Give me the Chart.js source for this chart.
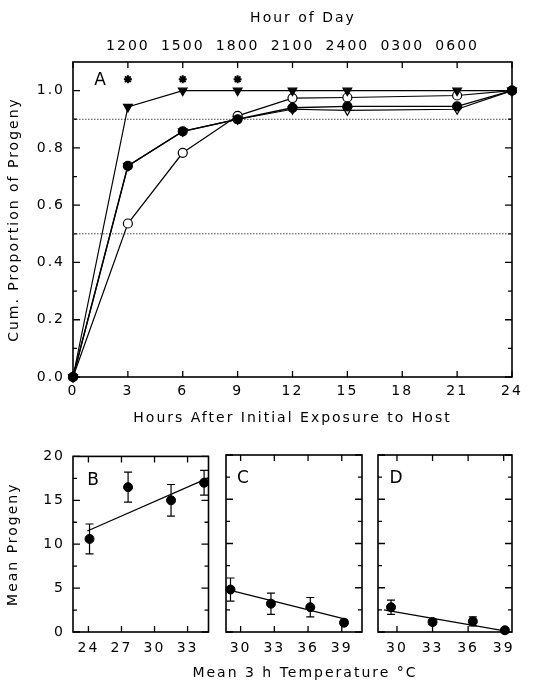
<!DOCTYPE html>
<html>
<head>
<meta charset="utf-8">
<script src="https://cdn.jsdelivr.net/npm/chart.js@4.4.0/dist/chart.umd.min.js"></script>
<style>
  html, body { margin: 0; padding: 0; background: #fff; }
  body { width: 541px; height: 686px; position: relative; overflow: hidden; }
  canvas { position: absolute; }
  .title {
    position: absolute; left: 0; text-align: center; line-height: 16px;
    font: 14px "DejaVu Sans", sans-serif; letter-spacing: 2px; color: #000;
  }
</style>
</head>
<body>
<canvas id="chartA" width="541" height="440" style="left:0;top:0"></canvas>
<canvas id="chartB" width="214" height="246" style="left:0;top:440px"></canvas>
<canvas id="chartC" width="156" height="246" style="left:214px;top:440px"></canvas>
<canvas id="chartD" width="171" height="246" style="left:370px;top:440px"></canvas>
<div class="title" style="top:9px;width:606px">Hour of Day</div>
<div class="title" style="top:664px;width:610px">Mean 3 h Temperature °C</div>
<script>
// panel A - cumulative proportion of progeny
const hours = [0, 3, 6, 9, 12, 15, 21, 24];
const filledTriangle = [0, 0.943, 1.0, 1.0, 1.0, 1.0, 1.0, 1.0];
const filledCircle = [0, 0.737, 0.858, 0.900, 0.940, 0.945, 0.945, 1.0];
const openCircle = [0, 0.536, 0.783, 0.912, 0.974, 0.976, 0.983, 1.0];
const openTriangle = [0, 0.737, 0.858, 0.900, 0.935, 0.931, 0.935, 1.0];
const starHours = [3, 6, 9];
const starLevel = 1.04;
const refLevels = [0.9, 0.5];
const hourTicks = [0, 3, 6, 9, 12, 15, 18, 21, 24];
const hourOfDay = ['', '1200', '1500', '1800', '2100', '2400', '0300', '0600', ''];
const propTicks = [0, 0.2, 0.4, 0.6, 0.8, 1.0];
const propMinor = [0.1, 0.3, 0.5, 0.7, 0.9];

// panels B-D - mean progeny vs temperature
const tempB = [24.1, 27.6, 31.5, 34.5];
const progenyB = [10.6, 16.5, 15.0, 17.0];
const errB = [1.7, 1.7, 1.8, 1.4];
const fitB = [[23.9, 11.5], [34.9, 17.55]];

const tempC = [29.1, 32.7, 36.2, 39.2];
const progenyC = [4.8, 3.2, 2.8, 1.05];
const errC = [1.3, 1.2, 1.1, 0.3];
const fitC = [[29.1, 4.7], [39.5, 1.4]];

const tempD = [29.5, 33.0, 36.4, 39.1];
const progenyD = [2.8, 1.13, 1.2, 0.2];
const errD = [0.8, 0.3, 0.5, 0.3];
const fitD = [[28.9, 2.5], [39.2, 0.1]];

const progenyTicks = [0, 5, 10, 15, 20];
const progenyMinor = [2.5, 7.5, 12.5, 17.5];
const tempTicksB = [24, 27, 30, 33];
const tempTicksCD = [30, 33, 36, 39];

const FONT = { family: '"DejaVu Sans", sans-serif', size: 14 };
const NOGRID = { display: false, drawTicks: false };

// frame + inward ticks + panel letter
const framePlugin = {
  id: 'frame',
  beforeDraw(chart) { chart.ctx.letterSpacing = '2px'; },
  beforeDatasetsDraw(chart, args, o) {
    const { ctx, chartArea: a, scales } = chart;
    const x = scales.x, y = scales.y;
    ctx.save();
    ctx.letterSpacing = '0px';
    ctx.strokeStyle = '#000';
    ctx.lineWidth = 1.6;
    ctx.strokeRect(a.left, a.top, a.right - a.left, a.bottom - a.top);
    ctx.lineWidth = 1.3;
    ctx.beginPath();
    o.xTicks.forEach(v => {
      const px = x.getPixelForValue(v);
      ctx.moveTo(px, a.bottom); ctx.lineTo(px, a.bottom - 6);
      ctx.moveTo(px, a.top); ctx.lineTo(px, a.top + 6);
    });
    const yt = (v, len) => {
      const py = y.getPixelForValue(v);
      ctx.moveTo(a.left, py); ctx.lineTo(a.left + len, py);
      ctx.moveTo(a.right, py); ctx.lineTo(a.right - len, py);
    };
    o.yMajor.forEach(v => yt(v, 7));
    o.yMinor.forEach(v => yt(v, 4));
    ctx.stroke();
    ctx.fillStyle = '#000';
    ctx.font = '17px "DejaVu Sans", sans-serif';
    ctx.textAlign = 'center';
    ctx.textBaseline = 'middle';
    ctx.fillText(o.letter, a.left + o.dx, a.top + o.dy);
    ctx.restore();
  }
};

// error bars for panels B-D
const errorBars = {
  id: 'errorBars',
  beforeDatasetsDraw(chart, args, o) {
    if (!o.xs) return;
    const { ctx, scales: { x, y } } = chart;
    ctx.save();
    ctx.strokeStyle = '#000';
    ctx.lineWidth = 1.2;
    ctx.beginPath();
    o.xs.forEach((t, i) => {
      const px = x.getPixelForValue(t);
      const hi = y.getPixelForValue(o.ys[i] + o.errs[i]);
      const lo = y.getPixelForValue(o.ys[i] - o.errs[i]);
      ctx.moveTo(px, hi); ctx.lineTo(px, lo);
      ctx.moveTo(px - 4, hi); ctx.lineTo(px + 4, hi);
      ctx.moveTo(px - 4, lo); ctx.lineTo(px + 4, lo);
    });
    ctx.stroke();
    ctx.restore();
  }
};

const pts = (xs, ys) => xs.map((v, i) => ({ x: v, y: ys[i] }));
const setTicks = vals => scale => { scale.ticks = vals.map(v => ({ value: v })); };

function series(data, fill, style, radius, width) {
  return {
    data: data,
    borderColor: '#000',
    backgroundColor: fill,
    pointBackgroundColor: fill,
    pointBorderColor: '#000',
    pointStyle: style,
    pointRotation: style === 'triangle' ? 180 : 0,
    pointRadius: radius,
    pointBorderWidth: 1.2,
    borderWidth: width,
    showLine: true,
    clip: false
  };
}

function initPanelA() {
  const refData = refLevels.map(l => ({
    data: [{ x: 0, y: l }, { x: 24, y: l }],
    borderColor: '#444', borderWidth: 1, borderDash: [1.5, 1.5],
    pointRadius: 0, showLine: true
  }));
  new Chart(document.getElementById('chartA'), {
    type: 'scatter',
    data: {
      datasets: [
        series(pts(hours, filledCircle), '#000', 'circle', 4.5, 1.4),
        series(pts(hours, filledTriangle), '#000', 'triangle', 5, 1.2),
        series(pts(hours, openCircle), '#fff', 'circle', 4.5, 1.2),
        series(pts(hours, openTriangle), '#fff', 'triangle', 5, 1.2),
        {
          data: starHours.map(h => ({ x: h, y: starLevel })),
          pointStyle: 'star', pointRadius: 4, pointBorderWidth: 2,
          pointBorderColor: '#000', showLine: false
        },
        ...refData
      ]
    },
    options: {
      responsive: false,
      animation: false,
      layout: { padding: { right: 29, top: 0, left: 0, bottom: 0 } },
      plugins: {
        legend: { display: false },
        tooltip: { enabled: false },
        frame: { xTicks: hourTicks, yMajor: propTicks, yMinor: propMinor, letter: 'A', dx: 27, dy: 19 }
      },
      scales: {
        x: {
          type: 'linear', min: 0, max: 24,
          grid: NOGRID, border: { display: false },
          afterBuildTicks: setTicks(hourTicks),
          afterFit: s => { s.height = 63; },
          ticks: { font: FONT, color: '#000', padding: 6, maxRotation: 0 },
          title: { display: true, text: 'Hours After Initial Exposure to Host', font: FONT, color: '#000', padding: { bottom: 13 } }
        },
        x2: {
          type: 'linear', position: 'top', axis: 'x', min: 0, max: 24,
          grid: NOGRID, border: { display: false },
          afterBuildTicks: setTicks(hourTicks),
          afterFit: s => { s.height = 62; },
          ticks: { font: FONT, color: '#000', padding: 7, maxRotation: 0,
            callback: v => hourOfDay[hourTicks.indexOf(v)] }
        },
        y: {
          min: 0, max: 1.1,
          grid: NOGRID, border: { display: false },
          afterBuildTicks: setTicks(propTicks),
          afterFit: s => { s.width = 73; },
          ticks: { font: FONT, color: '#000', padding: 8, callback: v => v.toFixed(1) },
          title: { display: true, text: 'Cum. Proportion of Progeny', font: FONT, color: '#000', padding: { top: 6 } }
        }
      }
    },
    plugins: [framePlugin]
  });
}

function initTempPanel(id, xs, ys, errs, fit, range, xTicks, letter, dx, pad, showY) {
  new Chart(document.getElementById(id), {
    type: 'scatter',
    data: {
      datasets: [
        {
          data: pts(xs, ys), pointRadius: 4.5, pointBackgroundColor: '#000',
          pointBorderColor: '#000', showLine: false, clip: false
        },
        {
          data: fit.map(p => ({ x: p[0], y: p[1] })), borderColor: '#000', borderWidth: 1.2,
          pointRadius: 0, showLine: true, clip: false
        }
      ]
    },
    options: {
      responsive: false,
      animation: false,
      layout: { padding: { top: 15, left: pad[0], right: pad[1], bottom: 0 } },
      plugins: {
        legend: { display: false },
        tooltip: { enabled: false },
        frame: { xTicks: xTicks, yMajor: progenyTicks, yMinor: progenyMinor, letter: letter, dx: dx, dy: 24 },
        errorBars: { xs: xs, ys: ys, errs: errs }
      },
      scales: {
        x: {
          type: 'linear', min: range[0], max: range[1],
          grid: NOGRID, border: { display: false },
          afterBuildTicks: setTicks(xTicks),
          afterFit: s => { s.height = 54; },
          ticks: { font: FONT, color: '#000', padding: 8, maxRotation: 0 }
        },
        y: {
          min: 0, max: 20, display: showY,
          grid: NOGRID, border: { display: false },
          afterBuildTicks: setTicks(progenyTicks),
          afterFit: s => { s.width = showY ? 73 : 0; },
          ticks: { font: FONT, color: '#000', padding: 8 },
          title: { display: true, text: 'Mean Progeny', font: FONT, color: '#000', padding: { top: 5 } }
        }
      }
    },
    plugins: [framePlugin, errorBars]
  });
}

document.addEventListener('DOMContentLoaded', () => {
  initPanelA();
  initTempPanel('chartB', tempB, progenyB, errB, fitB, [22.6, 34.9], tempTicksB, 'B', 20, [0, 5], true);
  initTempPanel('chartC', tempC, progenyC, errC, fitC, [28.7, 40.8], tempTicksCD, 'C', 17, [12, 8], false);
  initTempPanel('chartD', tempD, progenyD, errD, fitD, [28.4, 39.7], tempTicksCD, 'D', 18, [8, 29], false);
});
</script>
</body>
</html>
